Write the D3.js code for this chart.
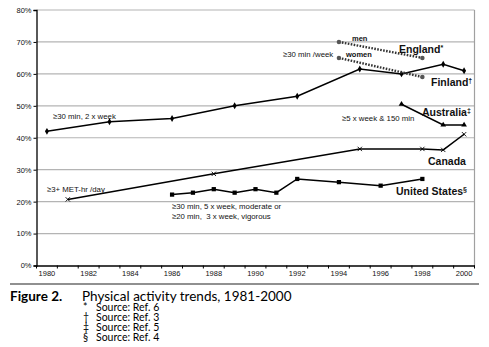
<!DOCTYPE html>
<html>
<head>
<meta charset="utf-8">
<script src="https://cdn.jsdelivr.net/npm/d3@7"></script>
<style>
  body { margin: 0; background: #fff; }
  svg { display: block; }
  .tick text { font-family: "Liberation Sans", Arial, sans-serif; }
</style>
</head>
<body>
<div id="chart"></div>
<script>
var width = 489,
    height = 347,
    margin = {top: 10, left: 36.5, right: 14.5, bottom: 81.5}

// year categories along the bottom
var years = [1980, 1981, 1982, 1983, 1984, 1985, 1986, 1987, 1988, 1989, 1990,
             1991, 1992, 1993, 1994, 1995, 1996, 1997, 1998, 1999, 2000]
var yearLabels = [1980, 1982, 1984, 1986, 1988, 1990, 1992, 1994, 1996, 1998, 2000]
var pctTicks = [0, 0.1, 0.2, 0.3, 0.4, 0.5, 0.6, 0.7, 0.8]

// Finland
var finlandYears = [1980, 1983, 1986, 1989, 1992, 1995, 1997, 1999, 2000]
var finlandValues = [0.42, 0.45, 0.46, 0.50, 0.53, 0.615, 0.60, 0.63, 0.61]

// England, men and women
var englandYears = [1994, 1998]
var englandMen = [0.70, 0.65]
var englandWomen = [0.65, 0.59]

// Australia
var australiaYears = [1997, 1999, 2000]
var australiaValues = [0.505, 0.44, 0.44]

// Canada
var canadaYears = [1981, 1988, 1995, 1998, 1999, 2000]
var canadaValues = [0.207, 0.287, 0.365, 0.365, 0.362, 0.411]

// United States
var usYears = [1986, 1987, 1988, 1989, 1990, 1991, 1992, 1994, 1996, 1998]
var usValues = [0.222, 0.228, 0.239, 0.228, 0.239, 0.228, 0.271, 0.261, 0.25, 0.271]

var svg = d3.select('#chart').append('svg')
    .attr('width', width)
    .attr('height', height)

var x = d3.scaleBand()
    .domain(years)
    .range([margin.left, width - margin.right])

var y = d3.scaleLinear()
    .domain([0, 0.8])
    .range([height - margin.bottom, margin.top])

function cx(yr) { return x(yr) + x.bandwidth() / 2 }

var plotBottom = height - margin.bottom

// gridlines + frame
svg.append('g')
    .selectAll('line')
    .data(pctTicks.slice(1))
    .enter().append('line')
    .attr('x1', margin.left).attr('x2', width - margin.right)
    .attr('y1', function (d) { return y(d) }).attr('y2', function (d) { return y(d) })
    .attr('stroke', '#b4b4b4').attr('stroke-width', 1.2)

svg.append('line')
    .attr('x1', width - margin.right).attr('x2', width - margin.right)
    .attr('y1', margin.top).attr('y2', plotBottom)
    .attr('stroke', '#a0a0a0').attr('stroke-width', 1.2)

// y axis
var yAxis = d3.axisLeft(y)
    .tickValues(pctTicks)
    .tickFormat(d3.format('.0%'))
    .tickSize(3)
    .tickPadding(2)

var gy = svg.append('g')
    .attr('transform', 'translate(' + margin.left + ',0)')
    .call(yAxis)
gy.select('.domain').attr('stroke', '#000').attr('stroke-width', 1.3)
gy.selectAll('.tick text').attr('font-size', 7.5).attr('fill', '#111')

// x axis: labels on every other year, ticks on the category boundaries
var xAxis = d3.axisBottom(x)
    .tickValues(yearLabels)
    .tickSize(0)
    .tickPadding(5)

var gx = svg.append('g')
    .attr('transform', 'translate(0,' + plotBottom + ')')
    .call(xAxis)
gx.select('.domain').attr('stroke', '#000').attr('stroke-width', 1.3)
gx.selectAll('.tick text').attr('font-size', 7.5).attr('fill', '#111')

gx.selectAll('.bound')
    .data(years.concat(['end']))
    .enter().append('line')
    .attr('class', 'bound')
    .attr('x1', function (d) { return d === 'end' ? width - margin.right : x(d) })
    .attr('x2', function (d) { return d === 'end' ? width - margin.right : x(d) })
    .attr('y1', 0).attr('y2', 3)
    .attr('stroke', '#000').attr('stroke-width', 1)

// series
function drawLine(yrs, vals, dashed) {
    var pts = yrs.map(function (d, i) { return [cx(d), y(vals[i])] })
    var path = svg.append('path')
        .datum(pts)
        .attr('d', d3.line())
        .attr('fill', 'none')
    if (dashed) {
        path.attr('stroke', '#333').attr('stroke-width', 2.4)
            .attr('stroke-dasharray', '1.6,1.4')
    } else {
        path.attr('stroke', '#000').attr('stroke-width', 1.5)
    }
    return pts
}

function drawMarkers(pts, type, size, fill) {
    svg.append('g').selectAll('path')
        .data(pts)
        .enter().append('path')
        .attr('transform', function (d) { return 'translate(' + d[0] + ',' + d[1] + ')' })
        .attr('d', d3.symbol().type(type).size(size))
        .attr('fill', fill || '#000')
}

var fin = drawLine(finlandYears, finlandValues)
drawMarkers(fin, d3.symbolDiamond, 14)

var engM = drawLine(englandYears, englandMen, true)
var engW = drawLine(englandYears, englandWomen, true)
drawMarkers(engM, d3.symbolCircle, 16, '#555')
drawMarkers(engW, d3.symbolCircle, 16, '#555')

var aus = drawLine(australiaYears, australiaValues)
drawMarkers(aus, d3.symbolTriangle, 14)

var can = drawLine(canadaYears, canadaValues)
svg.append('g').selectAll('path')
    .data(can)
    .enter().append('path')
    .attr('transform', function (d) { return 'translate(' + d[0] + ',' + d[1] + ')' })
    .attr('d', d3.symbol().type(d3.symbolX).size(14))
    .attr('fill', 'none')
    .attr('stroke', '#000')
    .attr('stroke-width', 0.9)

var us = drawLine(usYears, usValues)
drawMarkers(us, d3.symbolSquare, 18)

// annotations
var sans = '"Liberation Sans", Arial, sans-serif'

function note(tx, ty, str, size, bold) {
    return svg.append('text')
        .attr('x', tx).attr('y', ty)
        .attr('font-family', sans)
        .attr('font-size', size || 7.8)
        .attr('font-weight', bold ? 'bold' : 'normal')
        .attr('fill', '#111')
        .text(str)
}

function seriesName(tx, ty, str, mark) {
    var t = note(tx, ty, str, 10.5, true)
    if (mark) {
        t.append('tspan')
            .attr('font-size', 7)
            .attr('dy', -3.5)
            .text(mark)
    }
}

note(53, 119, '≥30 min, 2 x week')
note(283, 57, '≥30 min /week')
note(352, 40.5, 'men', 7.5, true)
note(346, 56.5, 'women', 7.5, true)
note(342, 121, '≥5 x week & 150 min')
note(47, 192, '≥3+ MET-hr /day')
note(172, 209, '≥30 min, 5 x week, moderate or')
note(172, 218.5, '≥20 min,  3 x week, vigorous').attr('xml:space', 'preserve')

seriesName(399, 53, 'England', '*')
seriesName(431, 86, 'Finland', '†')
seriesName(422, 116, 'Australia', '‡')
seriesName(428, 165, 'Canada')
seriesName(396, 195, 'United States', '§')

// caption
svg.append('line')
    .attr('x1', 10).attr('x2', 479)
    .attr('y1', 284).attr('y2', 284)
    .attr('stroke', '#222').attr('stroke-width', 1.2)

var cap = 'Lato, "Open Sans", sans-serif'
svg.append('text')
    .attr('x', 10).attr('y', 300.5)
    .attr('font-family', cap).attr('font-size', 13.5).attr('font-weight', 'bold')
    .text('Figure 2.')
svg.append('text')
    .attr('x', 82).attr('y', 300.5)
    .attr('font-family', cap).attr('font-size', 13.5)
    .text('Physical activity trends, 1981-2000')

var footMarks = ['*', '†', '‡', '§']
var footRefs = ['Source: Ref. 6', 'Source: Ref. 3', 'Source: Ref. 5', 'Source: Ref. 4']
footRefs.forEach(function (r, i) {
    svg.append('text')
        .attr('x', 83).attr('y', 310.5 + i * 10)
        .attr('font-family', cap).attr('font-size', 10.5)
        .text(footMarks[i])
    svg.append('text')
        .attr('x', 96).attr('y', 310.5 + i * 10)
        .attr('font-family', cap).attr('font-size', 10.5)
        .text(r)
})
</script>
</body>
</html>
